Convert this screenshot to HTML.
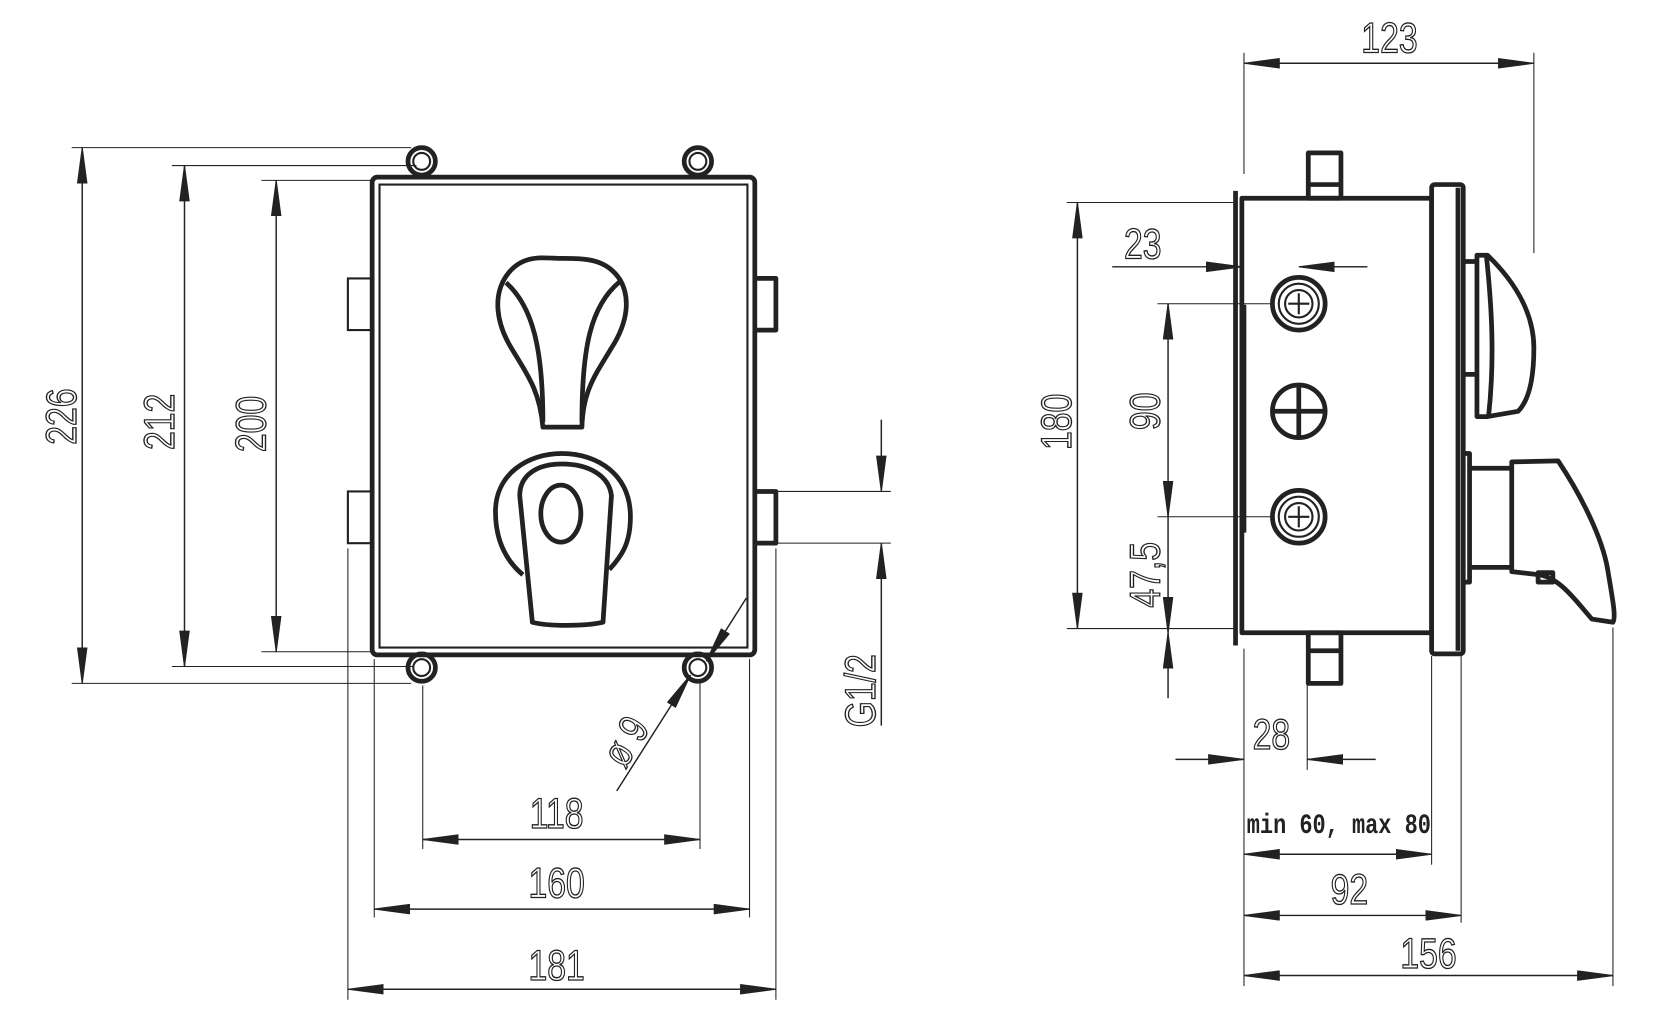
<!DOCTYPE html>
<html><head><meta charset="utf-8"><style>
html,body{margin:0;padding:0;background:#fff;}
svg{display:block;}
text{font-family:"Liberation Sans",sans-serif;font-size:40px;fill:none;stroke:#222;stroke-width:1.3;}
.b{fill:#222;stroke:none;font-family:"Liberation Mono",monospace;font-weight:bold;font-size:26px;}
.t{fill:none;stroke:#222;stroke-width:4.5;stroke-linejoin:round;}
.m{fill:none;stroke:#222;stroke-width:2;}
.d{fill:none;stroke:#222;stroke-width:1.4;}
.e{fill:none;stroke:#222;stroke-width:1;}
</style></head><body>
<svg width="1653" height="1023" viewBox="0 0 1568 970" preserveAspectRatio="none" xmlns="http://www.w3.org/2000/svg">
<defs>
<marker id="a" viewBox="0 0 34 10" refX="34" refY="5" markerWidth="34" markerHeight="10" markerUnits="userSpaceOnUse" orient="auto-start-reverse"><path d="M0,0 L34,4.5 L34,5.5 L0,10z" fill="#222"/></marker>
</defs>

<!-- LEFT VIEW -->
<rect x="353" y="168" width="363" height="453" rx="5" class="t"/>
<rect x="360" y="175" width="349" height="439" class="m" stroke-width="2.5"/>
<g class="t" stroke-width="3.5">
<circle cx="400" cy="153" r="13"/><circle cx="662" cy="153" r="13"/>
<circle cx="400" cy="633" r="13"/><circle cx="662" cy="633" r="13"/>
</g>
<g class="m" stroke-width="2.5">
<circle cx="400" cy="153" r="8"/><circle cx="662" cy="153" r="8"/>
<circle cx="400" cy="633" r="8"/><circle cx="662" cy="633" r="8"/>
<path d="M353,264 H330 V313 H353 M353,466 H330 V515 H353"/>
</g>
<g class="t" stroke-width="3">
<path d="M716,264 H736 V313 H716 M716,466 H736 V515 H716"/>
<!-- top handle -->
<path d="M515,405 C512,370 500,355 485,330 C470,305 468,280 480,262 C495,240 515,245 533,245 C555,245 575,245 588,265 C598,282 596,305 580,330 C565,355 553,370 552,405 Z"/>
<path d="M515,400 C515,330 505,290 480,268 M552,400 C552,330 560,290 588,267"/>
<!-- bottom handle -->
<path d="M496,545 C478,530 470,510 470,485 C470,450 500,430 533,430 C567,430 598,450 598,490 C598,515 590,527 578,540"/>
<path d="M505,590 L493,470 C493,450 510,440 533,440 C560,440 578,452 580,470 L572,590 C555,594 520,594 505,590 Z"/>
<ellipse cx="532" cy="487" rx="19" ry="27"/>
</g>

<!-- left dims -->
<g class="e">
<path d="M68,140 H390 M68,648 H390 M163,157 H395 M163,632 H392 M248,171 H355 M248,618 H355"/>
<path d="M401,650 V805 M664,648 V805 M355,625 V870 M711,625 V870 M330,520 V948 M736,520 V948"/>
<path d="M738,466 H845 M738,515 H845"/>
</g>
<g class="d">
<path d="M78,140 V648" marker-start="url(#a)" marker-end="url(#a)"/>
<path d="M175,157 V632" marker-start="url(#a)" marker-end="url(#a)"/>
<path d="M262,171 V618" marker-start="url(#a)" marker-end="url(#a)"/>
<path d="M401,796 H664" marker-start="url(#a)" marker-end="url(#a)"/>
<path d="M355,862 H711" marker-start="url(#a)" marker-end="url(#a)"/>
<path d="M330,938 H736" marker-start="url(#a)" marker-end="url(#a)"/>
<path d="M836,398 V466" marker-end="url(#a)"/>
<path d="M836,688 V515" marker-end="url(#a)"/>
<path d="M708,567 L670,627" marker-end="url(#a)"/>
<path d="M585,750 L655,640" marker-end="url(#a)"/>
</g>
<text transform="translate(72,395) rotate(-90) scale(0.8,1)" text-anchor="middle">226</text>
<text transform="translate(165,400) rotate(-90) scale(0.8,1)" text-anchor="middle">212</text>
<text transform="translate(252,402) rotate(-90) scale(0.8,1)" text-anchor="middle">200</text>
<text transform="translate(830,655) rotate(-90) scale(0.8,1)" text-anchor="middle">G1/2</text>
<text transform="translate(605,710) rotate(-58) scale(0.8,1)" text-anchor="middle">ø 9</text>
<text transform="translate(528,785) scale(0.8,1)" text-anchor="middle">118</text>
<text transform="translate(528,851) scale(0.8,1)" text-anchor="middle">160</text>
<text transform="translate(528,929) scale(0.8,1)" text-anchor="middle">181</text>

<!-- RIGHT VIEW -->
<g class="t" stroke-width="3">
<rect x="1178" y="188" width="180" height="412"/>
<path d="M1172,181 V612 M1180,289 V505"/>
<rect x="1241" y="145" width="31" height="43"/><path d="M1241,175 H1272"/>
<rect x="1241" y="600" width="31" height="48"/><path d="M1241,617 H1272"/>
<rect x="1358" y="175" width="30" height="445" rx="3"/>
<path d="M1383,178 V617"/>
<!-- top knob -->
<path d="M1388,248 H1401 M1388,355 H1401"/>
<path d="M1401,242 L1411,242 C1440,270 1455,300 1455,330 C1455,360 1450,380 1440,390 L1411,395 L1401,395 Z"/>
<path d="M1410,243 C1415,290 1418,340 1412,395"/>
<!-- lever -->
<path d="M1388,430 L1394,430 L1394,552 L1388,552"/>
<path d="M1394,444 H1434 M1394,538 H1434"/>
<path d="M1434,438 L1478,437 C1500,470 1520,510 1525,540 C1530,570 1533,585 1530,590 L1510,587 C1495,570 1480,548 1460,545 L1434,542 Z"/>
<rect x="1459" y="543" width="14" height="9"/>
</g>
<g class="t" stroke-width="4">
<circle cx="1232" cy="288" r="25"/><circle cx="1232" cy="490" r="25"/><circle cx="1232" cy="390" r="25"/>
<path d="M1232,365 V415 M1207,390 H1257"/>
</g>
<g class="m" stroke-width="1.5">
<circle cx="1232" cy="288" r="19"/><circle cx="1232" cy="288" r="13"/>
<circle cx="1232" cy="490" r="19"/><circle cx="1232" cy="490" r="13"/>
<path d="M1232,278 V298 M1222,288 H1242 M1232,480 V500 M1222,490 H1242"/>
</g>

<!-- right dims -->
<g class="e">
<path d="M1180,50 V165 M1455,50 V240"/>
<path d="M1012,192 H1170 M1012,596 H1170 M1098,288 H1207 M1098,490 H1207"/>
<path d="M1240,648 V730 M1180,615 V935 M1358,622 V820 M1386,622 V875 M1530,595 V935"/>
<path d="M1297,253 H1260"/>
</g>
<g class="d">
<path d="M1180,60 H1455" marker-start="url(#a)" marker-end="url(#a)"/>
<path d="M1022,192 V596" marker-start="url(#a)" marker-end="url(#a)"/>
<path d="M1055,253 H1178" marker-end="url(#a)"/>
<path d="M1297,253 H1232" marker-end="url(#a)"/>
<path d="M1108,288 V490" marker-start="url(#a)" marker-end="url(#a)"/>
<path d="M1108,490 V600" marker-end="url(#a)"/>
<path d="M1108,662 V600" marker-end="url(#a)"/>
<path d="M1115,720 H1180" marker-end="url(#a)"/>
<path d="M1305,720 H1240" marker-end="url(#a)"/>
<path d="M1180,810 H1358" marker-start="url(#a)" marker-end="url(#a)"/>
<path d="M1180,868 H1386" marker-start="url(#a)" marker-end="url(#a)"/>
<path d="M1180,925 H1530" marker-start="url(#a)" marker-end="url(#a)"/>
</g>
<text transform="translate(1318,50) scale(0.8,1)" text-anchor="middle">123</text>
<text transform="translate(1084,245) scale(0.8,1)" text-anchor="middle">23</text>
<text transform="translate(1016,400) rotate(-90) scale(0.8,1)" text-anchor="middle">180</text>
<text transform="translate(1100,390) rotate(-90) scale(0.8,1)" text-anchor="middle">90</text>
<text transform="translate(1100,545) rotate(-90) scale(0.8,1)" text-anchor="middle">47,5</text>
<text transform="translate(1206,710) scale(0.8,1)" text-anchor="middle">28</text>
<text class="b" transform="translate(1270,790) scale(0.8,1)" text-anchor="middle">min 60, max 80</text>
<text transform="translate(1280,857) scale(0.8,1)" text-anchor="middle">92</text>
<text transform="translate(1355,918) scale(0.8,1)" text-anchor="middle">156</text>
</svg>
</body></html>
